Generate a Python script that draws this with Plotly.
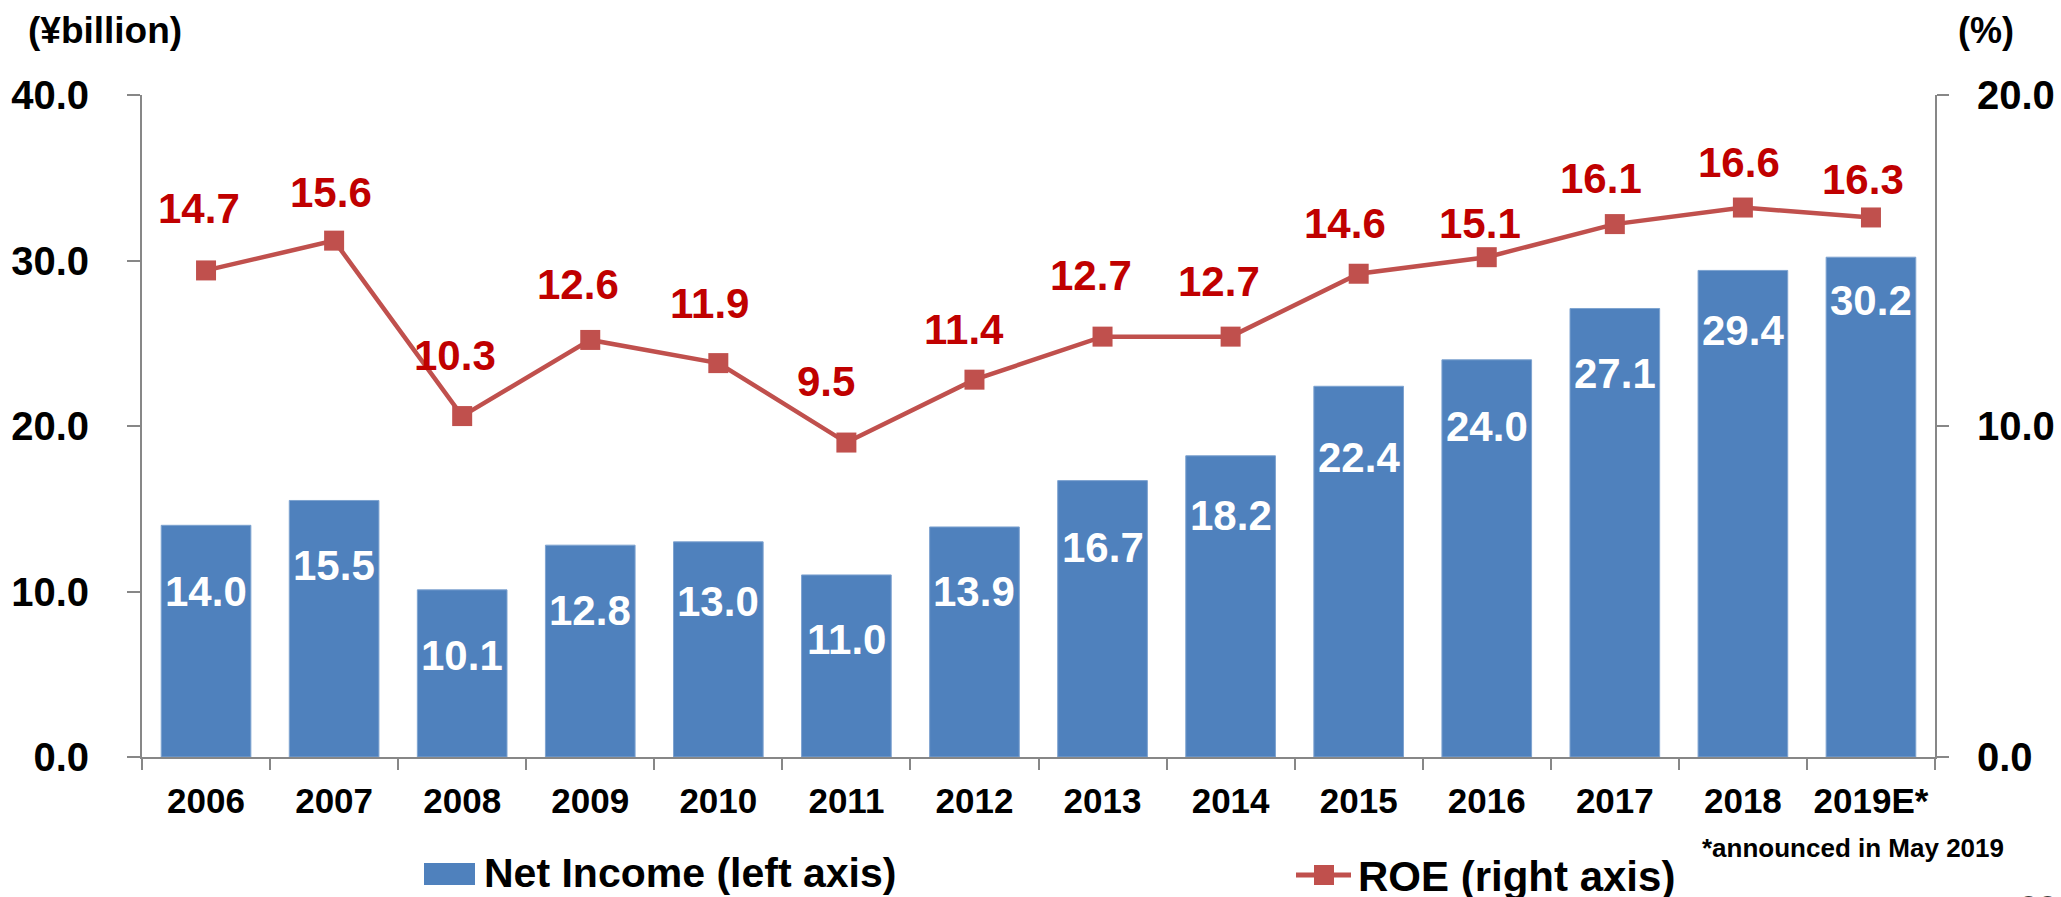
import plotly.graph_objects as go

# ---------------- data ----------------
years = ["2006", "2007", "2008", "2009", "2010", "2011", "2012",
         "2013", "2014", "2015", "2016", "2017", "2018", "2019E*"]
net_income = [14.0, 15.5, 10.1, 12.8, 13.0, 11.0, 13.9,
              16.7, 18.2, 22.4, 24.0, 27.1, 29.4, 30.2]
roe = [14.7, 15.6, 10.3, 12.6, 11.9, 9.5, 11.4,
       12.7, 12.7, 14.6, 15.1, 16.1, 16.6, 16.3]
left_ticks = [0, 10, 20, 30, 40]
right_ticks = [0, 10, 20]

# ---------------- label placement (style, in px) ----------------
bar_label_drop = [66, 65, 66, 65, 60, 65, 65, 67, 60, 71, 67, 65, 60, 43]
roe_label_rise = [62, 48, 61, 55, 60, 61, 50, 61, 55, 50, 34, 46, 45, 38]
roe_label_dx = [-7, -3, -7, -12, -9, -20, -10, -12, -12, -14, -7, -14, -4, -8]

W, H = 2061, 897
ML, MR, MT, MB = 142, 126, 95, 140
PW, PH = W - ML - MR, H - MT - MB

def px(xp):
    return (xp - ML) / PW

def py(yp):
    return (H - MB - yp) / PH

FONT = "Liberation Sans, Arial, sans-serif"
BLUE = "#4F81BD"
RED_LINE = "#C0504D"
RED_TXT = "#C00000"
AXIS = "#878787"

fig = go.Figure()
fig.add_trace(go.Bar(
    x=years, y=net_income, name="Net Income (left axis)",
    marker=dict(color=BLUE, line=dict(width=1, color="#7EA3D0")),
    yaxis="y", showlegend=False, hoverinfo="x+y",
))
fig.add_trace(go.Scatter(
    x=years, y=roe, name="ROE (right axis)", yaxis="y2",
    mode="lines+markers",
    line=dict(color=RED_LINE, width=4.5),
    marker=dict(symbol="square", size=20, color=RED_LINE),
    showlegend=False,
))

annotations = []
for i, v in enumerate(net_income):
    annotations.append(dict(
        x=i, y=v, xref="x", yref="y", text=f"<b>{v:.1f}</b>",
        showarrow=False, yshift=-bar_label_drop[i], yanchor="middle",
        font=dict(family=FONT, size=42, color="white"),
    ))
for i, v in enumerate(roe):
    annotations.append(dict(
        x=i, y=v, xref="x", yref="y2", text=f"<b>{v:.1f}</b>",
        showarrow=False, yshift=roe_label_rise[i], xshift=roe_label_dx[i],
        yanchor="middle",
        font=dict(family=FONT, size=42, color=RED_TXT),
    ))

# axis unit titles
annotations.append(dict(
    x=px(26), y=py(31), xref="paper", yref="paper", text="<b>(¥billion)</b>",
    showarrow=False, xanchor="left", yanchor="middle",
    font=dict(family=FONT, size=37, color="black"),
))
annotations.append(dict(
    x=px(1956), y=py(31), xref="paper", yref="paper", text="<b>(%)</b>",
    showarrow=False, xanchor="left", yanchor="middle",
    font=dict(family=FONT, size=36, color="black"),
))
# footnote
annotations.append(dict(
    x=px(1700), y=py(848), xref="paper", yref="paper",
    text="<b>*announced in May 2019</b>",
    showarrow=False, xanchor="left", yanchor="middle",
    font=dict(family=FONT, size=26, color="black"),
))
# legend texts
annotations.append(dict(
    x=px(482), y=py(873), xref="paper", yref="paper",
    text="<b>Net Income (left axis)</b>",
    showarrow=False, xanchor="left", yanchor="middle",
    font=dict(family=FONT, size=41, color="black"),
))
annotations.append(dict(
    x=px(1356), y=py(876), xref="paper", yref="paper",
    text="<b>ROE (right axis)</b>",
    showarrow=False, xanchor="left", yanchor="middle",
    font=dict(family=FONT, size=42, color="black"),
))
# page number (cut off at bottom)
annotations.append(dict(
    x=px(2038), y=py(886), xref="paper", yref="paper",
    text="22", showarrow=False, xanchor="center", yanchor="top",
    font=dict(family=FONT, size=34, color="#404040"),
))

shapes = [
    dict(type="rect", xref="paper", yref="paper",
         x0=px(424), x1=px(475), y0=py(885), y1=py(863),
         fillcolor=BLUE, line=dict(width=0)),
    dict(type="line", xref="paper", yref="paper",
         x0=px(1296), x1=px(1351), y0=py(875), y1=py(875),
         line=dict(color=RED_LINE, width=5)),
    dict(type="rect", xref="paper", yref="paper",
         x0=px(1314), x1=px(1334), y0=py(885), y1=py(865),
         fillcolor=RED_LINE, line=dict(width=0)),
]

fig.update_layout(
    width=W, height=H,
    margin=dict(l=ML, r=MR, t=MT, b=MB, pad=0, autoexpand=False),
    paper_bgcolor="white", plot_bgcolor="white",
    bargap=0.3,
    font=dict(family=FONT, color="black"),
    xaxis=dict(
        type="category", range=[-0.5, len(years) - 0.5], autorange=False,
        showgrid=False, zeroline=False, automargin=False,
        showline=True, linecolor=AXIS, linewidth=2,
        ticks="outside", ticklen=11, tickwidth=2, tickcolor=AXIS,
        tickson="boundaries", tickangle=0,
        tickfont=dict(family=FONT, size=35, color="black"),
        tickprefix="<b>", ticksuffix="</b>",
        ticklabelstandoff=12,
    ),
    yaxis=dict(
        range=[0, 40], autorange=False, tickvals=left_ticks,
        ticktext=[f"<b>{t:.1f}</b>" for t in left_ticks],
        showgrid=False, zeroline=False, automargin=False,
        showline=True, linecolor=AXIS, linewidth=2,
        ticks="outside", ticklen=13, tickwidth=2, tickcolor=AXIS,
        tickfont=dict(family=FONT, size=40, color="black"),
        ticklabelstandoff=30,
    ),
    yaxis2=dict(
        range=[0, 20], autorange=False, tickvals=right_ticks,
        ticktext=[f"<b>{t:.1f}</b>" for t in right_ticks],
        overlaying="y", side="right",
        showgrid=False, zeroline=False, automargin=False,
        showline=True, linecolor=AXIS, linewidth=2,
        ticks="outside", ticklen=12, tickwidth=2, tickcolor=AXIS,
        tickfont=dict(family=FONT, size=40, color="black"),
        ticklabelstandoff=20,
    ),
    annotations=annotations,
    shapes=shapes,
)

fig.write_html(
    "out.html",
    config={"displayModeBar": False},
    post_script="document.body.style.margin='0px';"
                "document.body.style.overflow='hidden';",
)
